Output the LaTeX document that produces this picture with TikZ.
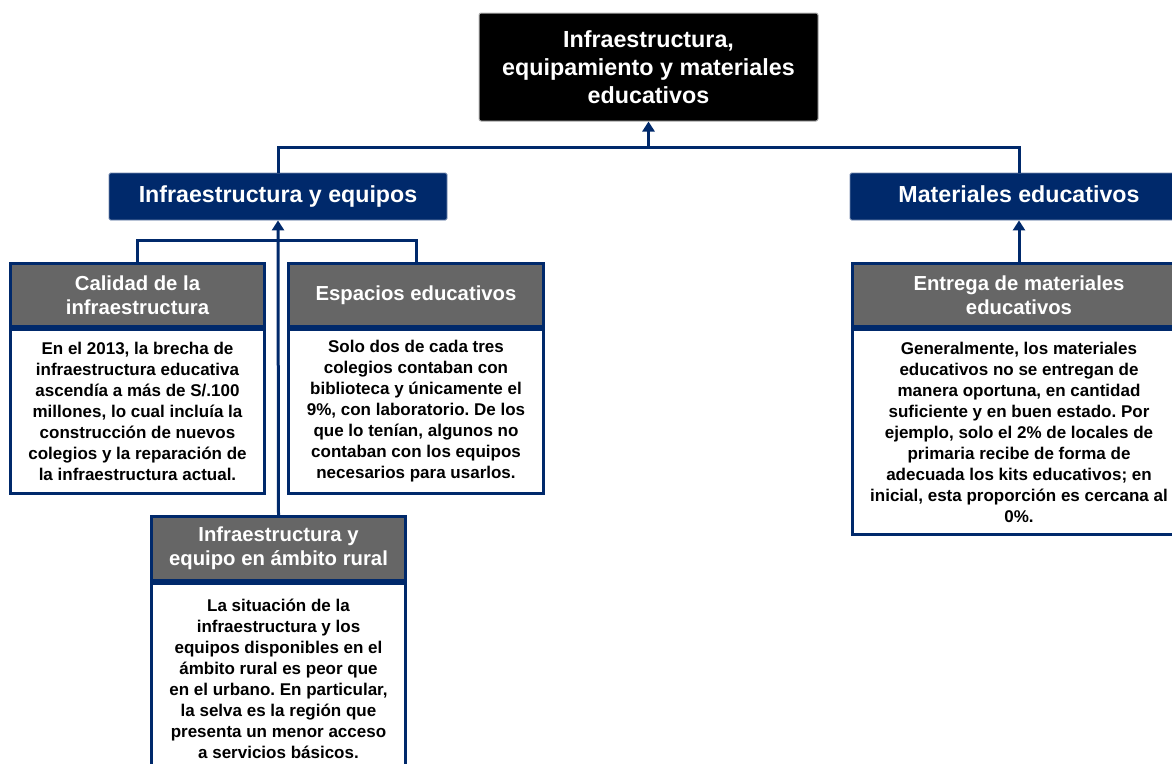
\documentclass[tikz,border=0pt]{standalone}
\usepackage{fontspec}
\setmainfont{Liberation Sans}
\usetikzlibrary{arrows.meta,calc}
\definecolor{navy}{RGB}{0,41,107}
\definecolor{headgray}{RGB}{102,102,102}
\frenchspacing

\begin{document}
\begin{tikzpicture}[x=1pt,y=-1pt,
    mainbox/.style={fill=black, draw=gray!60, line width=1pt, rounded corners=2pt, text=white, align=center, minimum width=339, minimum height=108, font=\fontsize{23.3}{28}\selectfont\bfseries},
    catbox/.style={fill=navy, draw=navy!55!white, line width=0.8pt, rounded corners=1.5pt, text=white, minimum width=338, minimum height=47, text height=17pt, text depth=5pt, font=\fontsize{23.2}{28}\selectfont\bfseries},
    hdbox/.style={fill=headgray, draw=navy, line width=3pt, text=white, align=center, minimum height=63, font=\fontsize{20.3}{24}\selectfont\bfseries},
    txtbox/.style={fill=white, draw=navy, line width=3pt, text=black, align=center, anchor=north, font=\fontsize{17}{21}\selectfont\bfseries},
    link/.style={draw=navy, line width=3pt},
    up/.style={link, -{Triangle[width=12pt,length=10pt]}}]

    \useasboundingbox (0,0) rectangle (1172,763);
    \clip (0,0) rectangle (1172,763);

    % top level
    \node[mainbox] (top) at (648.5,67) {Infraestructura,\\equipamiento y materiales\\educativos};
    \node[catbox] (infra) at (278,196.5) {Infraestructura y equipos};
    \node[catbox] (mat) at (1019,196.5) {Materiales educativos};

    % infraestructura y equipos
    \node[hdbox, minimum width=254] (calH) at (137.5,295) {Calidad de la\\infraestructura};
    \node[txtbox, minimum width=254, minimum height=164] (calB) at (calH.south) {En el 2013, la brecha de\\infraestructura educativa\\ascendía a más de S/.100\\millones, lo cual incluía la\\construcción de nuevos\\colegios y la reparación de\\la infraestructura actual.};
    \node[hdbox, minimum width=255] (espH) at (416,295) {Espacios educativos};
    \node[txtbox, minimum width=255, minimum height=164] (espB) at (espH.south) {Solo dos de cada tres\\colegios contaban con\\biblioteca y únicamente el\\9\%, con laboratorio. De los\\que lo tenían, algunos no\\contaban con los equipos\\necesarios para usarlos.};
    \node[hdbox, minimum width=254, minimum height=64] (rurH) at (278.5,548.5) {Infraestructura y\\equipo en ámbito rural};
    \node[txtbox, minimum width=254, minimum height=190] (rurB) at (rurH.south) {La situación de la\\infraestructura y los\\equipos disponibles en el\\ámbito rural es peor que\\en el urbano. En particular,\\la selva es la región que\\presenta un menor acceso\\a servicios básicos.};

    % materiales educativos
    \node[hdbox, minimum width=333] (entH) at (1019,295) {Entrega de materiales\\educativos};
    \node[txtbox, minimum width=333, minimum height=205] (entB) at (entH.south) {Generalmente, los materiales\\educativos no se entregan de\\manera oportuna, en cantidad\\suficiente y en buen estado. Por\\ejemplo, solo el 2\% de locales de\\primaria recibe de forma de\\adecuada los kits educativos; en\\inicial, esta proporción es cercana al\\0\%.};

    % connectors
    \coordinate (topjoin) at (648.5,147);
    \coordinate (leftjoin) at (278,240);
    \draw[link] (infra.north) |- (topjoin) -| (mat.north);
    \draw[up] (topjoin) -- (top.south);
    \draw[link] (calH.north) |- (leftjoin) -| (espH.north);
    \draw[up] (rurH.north) -- (infra.south);
    \draw[up] (entH.north) -- (mat.south);

\end{tikzpicture}
\end{document}
